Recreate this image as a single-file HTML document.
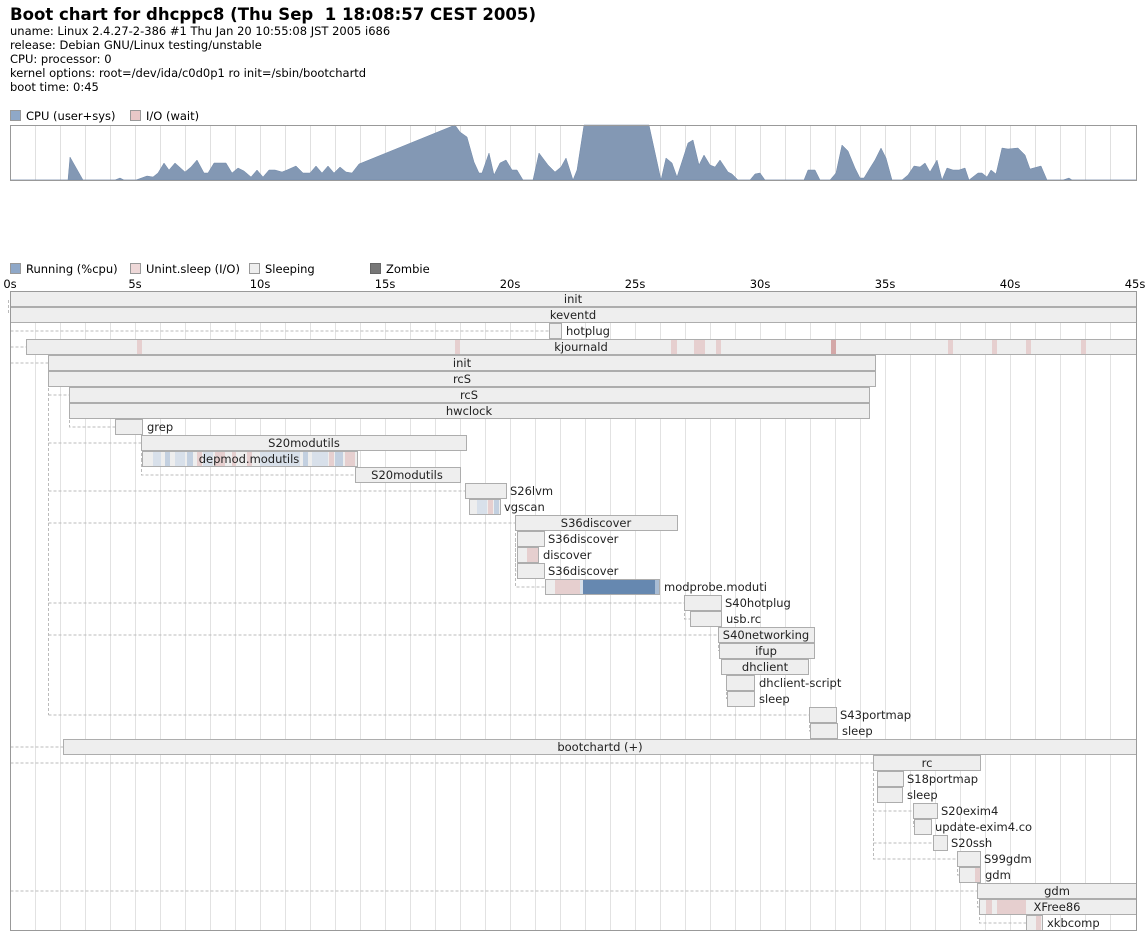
<!DOCTYPE html>
<html><head><meta charset="utf-8"><style>
html,body{margin:0;padding:0;background:#fff;width:1147px;height:940px;overflow:hidden}
svg{display:block;font-family:"DejaVu Sans","Liberation Sans",sans-serif}
</style></head><body>
<svg width="1147" height="940" viewBox="0 0 1147 940" xmlns="http://www.w3.org/2000/svg">
<text x="10" y="20" font-size="17" font-weight="bold" textLength="526" lengthAdjust="spacingAndGlyphs">Boot chart for dhcppc8 (Thu Sep &#160;1 18:08:57 CEST 2005)</text>
<g font-size="11.5" fill="#000">
<text x="10" y="35">uname: Linux 2.4.27-2-386 #1 Thu Jan 20 10:55:08 JST 2005 i686</text>
<text x="10" y="49">release: Debian GNU/Linux testing/unstable</text>
<text x="10" y="63">CPU: processor: 0</text>
<text x="10" y="77">kernel options: root=/dev/ida/c0d0p1 ro init=/sbin/bootchartd</text>
<text x="10" y="91">boot time: 0:45</text>
</g>
<rect x="10.5" y="110.5" width="10" height="10" fill="#8fa8c8" stroke="#999"/>
<text x="26" y="120" font-size="11.5">CPU (user+sys)</text>
<rect x="130.5" y="110.5" width="10" height="10" fill="#e8c8c8" stroke="#999"/>
<text x="146" y="120" font-size="11.5">I/O (wait)</text>
<g stroke="#e0e0e0" stroke-width="1">
<path d="M35.5 125V180M60.5 125V180M85.5 125V180M110.5 125V180M135.5 125V180M160.5 125V180M185.5 125V180M210.5 125V180M235.5 125V180M260.5 125V180M285.5 125V180M310.5 125V180M335.5 125V180M360.5 125V180M385.5 125V180M410.5 125V180M435.5 125V180M460.5 125V180M485.5 125V180M510.5 125V180M535.5 125V180M560.5 125V180M585.5 125V180M610.5 125V180M635.5 125V180M660.5 125V180M685.5 125V180M710.5 125V180M735.5 125V180M760.5 125V180M785.5 125V180M810.5 125V180M835.5 125V180M860.5 125V180M885.5 125V180M910.5 125V180M935.5 125V180M960.5 125V180M985.5 125V180M1010.5 125V180M1035.5 125V180M1060.5 125V180M1085.5 125V180M1110.5 125V180"/>
</g>
<polygon fill="#8398b4" stroke="#7088a8" stroke-width="0.5" points="10,180 68,180 70,157 83,180 115,180 120,178 124,180 136,180 147,176 153,177 158,173 164,163 169,170 175,163 185,172 191,167 197,160 204,173 208,173 214,163 226,163 232,173 238,168 244,171 251,177 257,170 263,177 269,170 275,170 282,172 287,170 296,166 303,173 310,173 316,166 322,173 328,166 334,173 340,167 346,172 352,173 359,164 455,125 460,132 467,137 474,162 479,173 482,173 489,153 494,175 500,163 506,160 512,170 517,170 523,180 533,180 539,153 548,165 555,172 561,167 566,158 573,180 577,170 584,125 649,125 661,180 666,158 672,163 677,177 688,143 693,140 699,165 704,155 710,165 715,167 720,160 728,172 732,174 738,180 750,180 755,174 760,173 765,180 804,180 808,170 815,170 820,180 830,180 836,173 842,145 848,151 855,168 860,178 864,178 870,168 875,160 881,148 886,158 892,180 902,180 908,175 914,166 920,167 925,163 930,172 937,160 942,180 947,168 953,170 959,170 965,168 969,180 978,173 982,173 987,177 991,170 996,174 1002,148 1008,149 1018,148 1025,155 1030,169 1041,166 1047,180 1063,180 1069,178 1072,180 1137,180"/>
<rect x="10.5" y="125.5" width="1126" height="55" fill="none" stroke="#999"/>

<rect x="10.5" y="263.5" width="10" height="10" fill="#8fa8c8" stroke="#999"/>
<text x="26" y="273" font-size="11.5">Running (%cpu)</text>
<rect x="130.5" y="263.5" width="10" height="10" fill="#eed8d8" stroke="#999"/>
<text x="146" y="273" font-size="11.5">Unint.sleep (I/O)</text>
<rect x="249.5" y="263.5" width="10" height="10" fill="#eeeeee" stroke="#999"/>
<text x="265" y="273" font-size="11.5">Sleeping</text>
<rect x="370.5" y="263.5" width="10" height="10" fill="#777" stroke="#666"/>
<text x="386" y="273" font-size="11.5">Zombie</text>
<g font-size="11.5" text-anchor="middle">
<text x="10" y="288">0s</text><text x="135" y="288">5s</text><text x="260" y="288">10s</text><text x="385" y="288">15s</text><text x="510" y="288">20s</text><text x="635" y="288">25s</text><text x="760" y="288">30s</text><text x="885" y="288">35s</text><text x="1010" y="288">40s</text><text x="1135" y="288">45s</text>
</g>
<g stroke="#e2e2e2" stroke-width="1">
<path d="M35.5 291V931M60.5 291V931M85.5 291V931M110.5 291V931M135.5 291V931M160.5 291V931M185.5 291V931M210.5 291V931M235.5 291V931M260.5 291V931M285.5 291V931M310.5 291V931M335.5 291V931M360.5 291V931M385.5 291V931M410.5 291V931M435.5 291V931M460.5 291V931M485.5 291V931M510.5 291V931M535.5 291V931M560.5 291V931M585.5 291V931M610.5 291V931M635.5 291V931M660.5 291V931M685.5 291V931M710.5 291V931M735.5 291V931M760.5 291V931M785.5 291V931M810.5 291V931M835.5 291V931M860.5 291V931M885.5 291V931M910.5 291V931M935.5 291V931M960.5 291V931M985.5 291V931M1010.5 291V931M1035.5 291V931M1060.5 291V931M1085.5 291V931M1110.5 291V931"/>
</g>
<g stroke="#bbb" stroke-dasharray="3,2" fill="none">
<path d="M10.5 331H549M10.5 347H26M8.5 300V313H10M10.5 363H48M48.5 363V715M48.5 395H69M69.5 395V427H115M48.5 443H141M141.5 443V459H142M141.5 459V475H355M48.5 491H465M469.5 491V507M48.5 523H515M515.5 523V587H545M515.5 539V571H517M48.5 603H684M684.5 603V619H690M48.5 635H718M718.5 635V651M721.5 651V667M726.5 667V699M48.5 715H809M809.5 715V731H810M10.5 747H63M10.5 763H873M873.5 763V859H957M877.5 763V795M873.5 811H913M913.5 811V827M873.5 843H933M957.5 859V875H959M10.5 891H977M977.5 891V907H979M979.5 907V923H1026"/>
</g>
<g stroke="#adadad" fill="#eeeeee" stroke-width="1">
<rect x="10.5" y="291.5" width="1126" height="15"/>
<rect x="10.5" y="307.5" width="1126" height="15"/>
<rect x="549.5" y="323.5" width="12" height="15"/>
<rect x="26.5" y="339.5" width="1110" height="15"/>
<rect x="48.5" y="355.5" width="827" height="15"/>
<rect x="48.5" y="371.5" width="827" height="15"/>
<rect x="69.5" y="387.5" width="800" height="15"/>
<rect x="69.5" y="403.5" width="800" height="15"/>
<rect x="115.5" y="419.5" width="27" height="15"/>
<rect x="141.5" y="435.5" width="325" height="15"/>
<rect x="142.5" y="451.5" width="215" height="15"/>
<rect x="355.5" y="467.5" width="105" height="15"/>
<rect x="465.5" y="483.5" width="41" height="15"/>
<rect x="469.5" y="499.5" width="31" height="15"/>
<rect x="515.5" y="515.5" width="162" height="15"/>
<rect x="517.5" y="531.5" width="27" height="15"/>
<rect x="517.5" y="547.5" width="21" height="15"/>
<rect x="517.5" y="563.5" width="27" height="15"/>
<rect x="545.5" y="579.5" width="114" height="15"/>
<rect x="684.5" y="595.5" width="37" height="15"/>
<rect x="690.5" y="611.5" width="31" height="15"/>
<rect x="718.5" y="627.5" width="96" height="15"/>
<rect x="719.5" y="643.5" width="95" height="15"/>
<rect x="721.5" y="659.5" width="87" height="15"/>
<rect x="726.5" y="675.5" width="28" height="15"/>
<rect x="727.5" y="691.5" width="27" height="15"/>
<rect x="809.5" y="707.5" width="27" height="15"/>
<rect x="810.5" y="723.5" width="27" height="15"/>
<rect x="63.5" y="739.5" width="1073" height="15"/>
<rect x="873.5" y="755.5" width="107" height="15"/>
<rect x="877.5" y="771.5" width="26" height="15"/>
<rect x="877.5" y="787.5" width="25" height="15"/>
<rect x="913.5" y="803.5" width="24" height="15"/>
<rect x="914.5" y="819.5" width="17" height="15"/>
<rect x="933.5" y="835.5" width="14" height="15"/>
<rect x="957.5" y="851.5" width="23" height="15"/>
<rect x="959.5" y="867.5" width="21" height="15"/>
<rect x="977.5" y="883.5" width="159" height="15"/>
<rect x="979.5" y="899.5" width="157" height="15"/>
<rect x="1026.5" y="915.5" width="16" height="15"/>
</g>
<g stroke="none">
<g fill="#e6cfcf">
<rect x="137" y="340" width="5" height="14"/><rect x="455" y="340" width="5" height="14"/><rect x="671" y="340" width="6" height="14"/><rect x="694" y="340" width="11" height="14"/><rect x="716" y="340" width="5" height="14"/><rect x="948" y="340" width="5" height="14"/><rect x="992" y="340" width="5" height="14"/><rect x="1026" y="340" width="5" height="14"/><rect x="1081" y="340" width="5" height="14"/>
<rect x="488" y="500" width="5" height="14"/><rect x="527" y="548" width="11" height="14"/><rect x="555" y="580" width="25" height="14"/>
<rect x="975" y="868" width="5" height="14"/><rect x="986" y="900" width="6" height="14"/><rect x="997" y="900" width="29" height="14"/><rect x="1036" y="916" width="5" height="14"/>
<rect x="329" y="452" width="5" height="14"/><rect x="345" y="452" width="10" height="14"/><rect x="197" y="452" width="5" height="14"/><rect x="215" y="452" width="10" height="14"/><rect x="247" y="452" width="5" height="14"/><rect x="232" y="452" width="4" height="14"/>
</g>
<rect x="831" y="340" width="5" height="14" fill="#d4a8a8"/>
<g fill="#d8e0ea">
<rect x="153" y="452" width="8" height="14"/><rect x="175" y="452" width="10" height="14"/><rect x="203" y="452" width="10" height="14"/><rect x="260" y="452" width="40" height="14"/><rect x="312" y="452" width="16" height="14"/><rect x="477" y="500" width="10" height="14"/><rect x="580" y="580" width="3" height="14"/>
</g>
<g fill="#c3d0e0">
<rect x="165" y="452" width="5" height="14"/><rect x="187" y="452" width="6" height="14"/><rect x="303" y="452" width="5" height="14"/><rect x="335" y="452" width="8" height="14"/><rect x="494" y="500" width="5" height="14"/>
</g>
<rect x="583" y="580" width="72" height="14" fill="#6688b0"/>
<rect x="655" y="580" width="4" height="14" fill="#a8bcd4"/>
</g>
<rect x="10.5" y="291.5" width="1126" height="639" fill="none" stroke="#999"/>
<g font-size="11.5" fill="#222">
<g text-anchor="middle">
<text x="573" y="303">init</text>
<text x="573" y="319">keventd</text>
<text x="581" y="351">kjournald</text>
<text x="462" y="367">init</text>
<text x="462" y="383">rcS</text>
<text x="469" y="399">rcS</text>
<text x="469" y="415">hwclock</text>
<text x="304" y="447">S20modutils</text>
<text x="249" y="463">depmod.modutils</text>
<text x="407" y="479">S20modutils</text>
<text x="596" y="527">S36discover</text>
<text x="766" y="639">S40networking</text>
<text x="766" y="655">ifup</text>
<text x="765" y="671">dhclient</text>
<text x="600" y="751">bootchartd (+)</text>
<text x="927" y="767">rc</text>
<text x="1057" y="895">gdm</text>
<text x="1057" y="911">XFree86</text>
</g>
<text x="566" y="335">hotplug</text>
<text x="147" y="431">grep</text>
<text x="510" y="495">S26lvm</text>
<text x="504" y="511">vgscan</text>
<text x="548" y="543">S36discover</text>
<text x="543" y="559">discover</text>
<text x="548" y="575">S36discover</text>
<text x="664" y="591">modprobe.moduti</text>
<text x="725" y="607">S40hotplug</text>
<text x="726" y="623">usb.rc</text>
<text x="759" y="687">dhclient-script</text>
<text x="759" y="703">sleep</text>
<text x="840" y="719">S43portmap</text>
<text x="842" y="735">sleep</text>
<text x="907" y="783">S18portmap</text>
<text x="907" y="799">sleep</text>
<text x="941" y="815">S20exim4</text>
<text x="935" y="831">update-exim4.co</text>
<text x="951" y="847">S20ssh</text>
<text x="984" y="863">S99gdm</text>
<text x="985" y="879">gdm</text>
<text x="1047" y="927">xkbcomp</text>
</g>
</svg>
</body></html>
